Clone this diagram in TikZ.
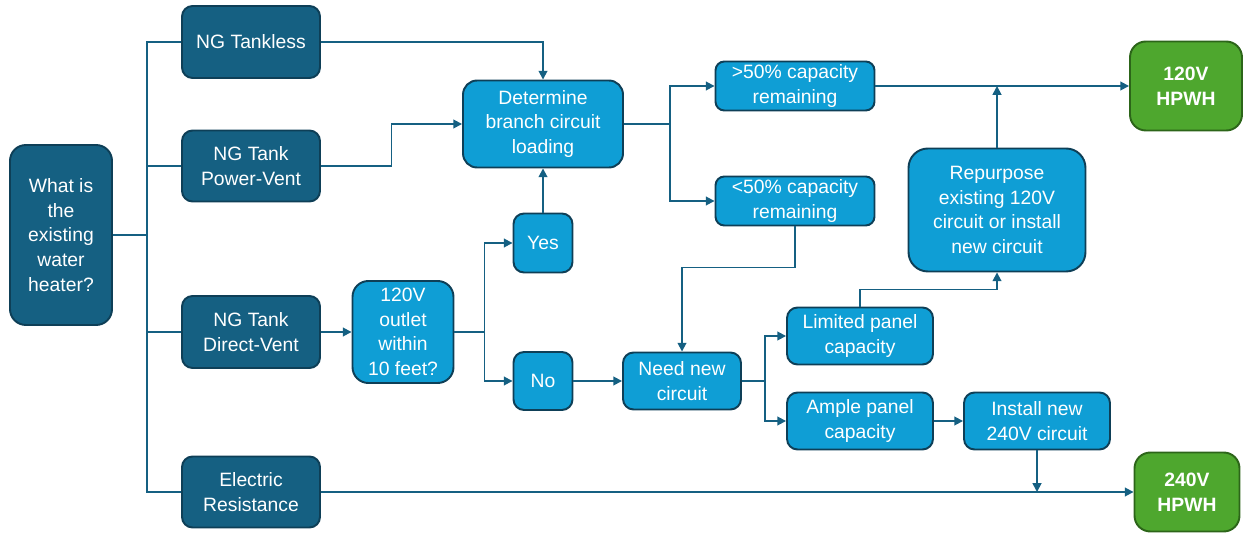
\documentclass[tikz,border=0pt]{standalone}
\usepackage{fontspec}
\setmainfont{Liberation Sans}
\usetikzlibrary{arrows.meta,calc}
\definecolor{dkblue}{HTML}{156082}
\definecolor{dkedge}{HTML}{0E3F57}
\definecolor{ltblue}{HTML}{0F9ED5}
\definecolor{hpgreen}{HTML}{4EA72E}
\definecolor{gnedge}{HTML}{2C6519}

\begin{document}
\begin{tikzpicture}[x=0.02cm,y=-0.02cm,
		box/.style={rounded corners=6pt,draw,line width=1.1pt,text=white,align=center,inner sep=0pt,
			font=\fontsize{11}{14}\selectfont},
		dk/.style={box,fill=dkblue,draw=dkedge},
		lt/.style={box,fill=ltblue,draw=dkedge},
		gn/.style={box,fill=hpgreen,draw=gnedge,font=\fontsize{11}{14}\selectfont\bfseries},
		ln/.style={draw=dkblue,line width=1pt},
		arr/.style={ln,-{Triangle[length=5pt,width=5pt]}}]
	\useasboundingbox (0,0) rectangle (1244,533);
	\node[dk,minimum width=2.04cm,minimum height=3.6cm,rounded corners=9pt] (q) at (61,235){What is\\the\\existing\\water\\heater?};
	\node[dk,minimum width=2.76cm,minimum height=1.44cm] (tankless) at (251,42){NG Tankless};
	\node[dk,minimum width=2.76cm,minimum height=1.42cm] (pv) at (251,166){NG Tank\\Power-Vent};
	\node[dk,minimum width=2.76cm,minimum height=1.44cm] (dv) at (251,332){NG Tank\\Direct-Vent};
	\node[dk,minimum width=2.76cm,minimum height=1.42cm] (er) at (251,492){Electric\\Resistance};
	\node[lt,minimum width=2.02cm,minimum height=2.04cm,rounded corners=9pt] (outlet) at (403,332){120V\\outlet\\within\\10 feet?};
	\node[lt,minimum width=3.2cm,minimum height=1.74cm,rounded corners=8pt] (det) at (543,124){Determine\\branch circuit\\loading};
	\node[lt,minimum width=1.18cm,minimum height=1.18cm] (yes) at (543,243){Yes};
	\node[lt,minimum width=1.18cm,minimum height=1.16cm] (no) at (543,381){No};
	\node[lt,minimum width=3.18cm,minimum height=0.98cm,rounded corners=5pt] (gt) at (795,86){>50\% capacity\\remaining};
	\node[lt,minimum width=3.18cm,minimum height=0.98cm,rounded corners=5pt] (lt) at (795,201){<50\% capacity\\remaining};
	\node[lt,minimum width=2.36cm,minimum height=1.14cm] (need) at (682,381){Need new\\circuit};
	\node[lt,minimum width=2.92cm,minimum height=1.14cm] (lim) at (860,336){Limited panel\\capacity};
	\node[lt,minimum width=2.92cm,minimum height=1.14cm] (amp) at (860,421){Ample panel\\capacity};
	\node[lt,minimum width=2.92cm,minimum height=1.14cm] (inst) at (1037,421){Install new\\240V circuit};
	\node[lt,minimum width=3.54cm,minimum height=2.46cm,rounded corners=11pt] (rep) at (997,210){Repurpose\\existing 120V\\circuit or install\\new circuit};
	\node[gn,minimum width=2.24cm,minimum height=1.78cm,rounded corners=9pt] (hp120) at (1186,86){120V\\HPWH};
	\node[gn,minimum width=2.1cm,minimum height=1.58cm,rounded corners=9pt] (hp240) at (1187,492){240V\\HPWH};
	\coordinate (tk) at (147,0);
	\draw[ln] (tankless.west) -- (tankless.west -| tk) -- (er.west -| tk) -- (er.west);
	\draw[ln] (q.east) -- (q.east -| tk);
	\draw[ln] (pv.west) -- (pv.west -| tk);
	\draw[ln] (dv.west) -- (dv.west -| tk);
	\draw[arr] (tankless.east) -| (det.north);
	\draw[arr] (pv.east) -| ($(pv.east)!.5!(det.west)$) |- (det.west);
	\draw[arr] (dv.east) -- (outlet.west);
	\draw[arr] (outlet.east) -- ++(30,0) |- (yes.west);
	\draw[arr] (outlet.east) -- ++(30,0) |- (no.west);
	\draw[arr] (yes.north) -- (det.south);
	\draw[arr] (no.east) -- (need.west);
	\draw[arr] (det.east) -- ++(46,0) |- (gt.west);
	\draw[arr] (det.east) -- ++(46,0) |- (lt.west);
	\draw[arr] (lt.south) -- ++(0,41) -| (need.north);
	\draw[arr] (need.east) -- ++(23,0) |- (lim.west);
	\draw[arr] (need.east) -- ++(23,0) |- (amp.west);
	\draw[arr] (lim.north) -- ++(0,-17) -| (rep.south);
	\draw[arr] (amp.east) -- (inst.west);
	\draw[arr] (gt.east) -- (hp120.west);
	\draw[arr] (rep.north) -- (rep.north |- gt.east);
	\draw[arr] (er.east) -- (hp240.west);
	\draw[arr] (inst.south) -- (inst.south |- er.east);
\end{tikzpicture}
\end{document}
